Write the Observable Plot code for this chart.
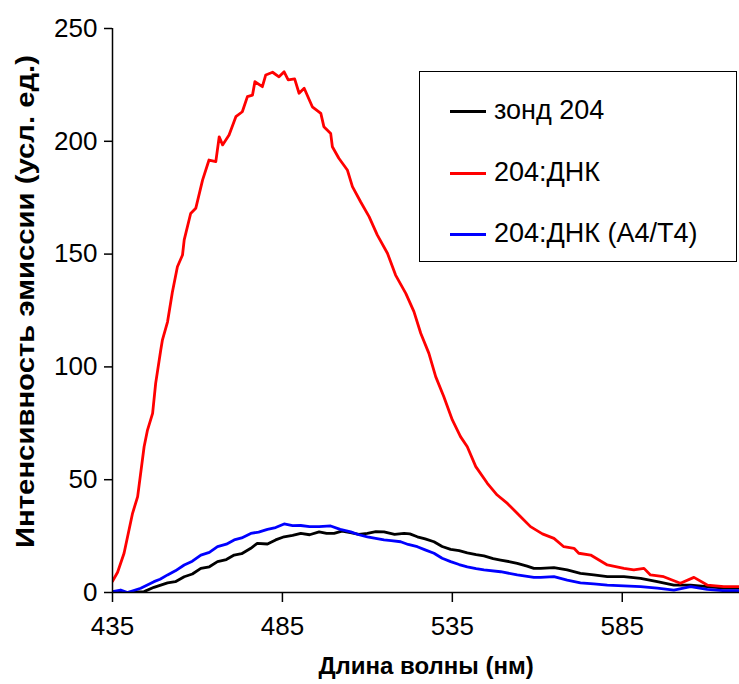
<!DOCTYPE html>
<html>
<head>
<meta charset="utf-8">
<script src="https://cdn.jsdelivr.net/npm/d3@7"></script>
<script src="https://cdn.jsdelivr.net/npm/@observablehq/plot@0.6"></script>
<style>
  html, body { margin: 0; padding: 0; background: #fff; }
  #wrap { position: relative; width: 739px; height: 684px; font-family: "Liberation Sans", Arial, sans-serif; }
  #legend { position: absolute; left: 419px; top: 71px; width: 316px; height: 189px; border: 1.5px solid #000; background: #fff; }
  .row { position: absolute; left: 0; height: 40px; }
  .sw { position: absolute; left: 30px; width: 36px; height: 3px; }
  .lab { position: absolute; left: 74px; font-size: 27px; white-space: nowrap; color: #000; line-height: 1; }
</style>
</head>
<body>
<div id="wrap"></div>
<script>
// Series names and colours
const seriesNames = ["зонд 204", "204:ДНК", "204:ДНК (A4/T4)"];
const seriesColors = ["#000000", "#ff0000", "#0000ff"];

// Tick labels
const xTicks = [435, 485, 535, 585];
const yTicks = [0, 50, 100, 150, 200, 250];
const xLabel = "Длина волны (нм)";
const yLabel = "Интенсивность эмиссии (усл. ед.)";

// зонд 204 (black)
const probeWl = [435,439.4,444.3,447.2,451.2,453.5,456.1,458.5,461,463.5,465.9,468.5,470.8,473,475.7,477.6,480.6,483,485.5,488,490.4,493,495.8,498,500.2,502.5,505,507.5,510,512.5,514.9,518,520.8,522.5,524.7,527,529.6,532,534.5,537,539.4,542,544.3,547,549.2,552,554.1,557,559,561,564.9,568.8,572.7,576.6,580.6,585.5,590.4,595.3,600.2,605.1,610,614.9,619.5];
const probeI  = [0,0,0.4,2.3,4.3,4.8,7,8.2,10.7,11.4,13.7,14.6,16.6,17.2,19.6,21.8,21.5,23.3,24.7,25.3,26.2,25.6,26.9,26.2,26.2,27.2,26.5,25.8,26.2,27.0,26.9,25.8,26.2,26.0,24.7,23.8,22.5,20.4,19.1,18.6,17.6,16.8,16.2,15.0,14.4,13.6,12.9,11.7,10.7,10.7,11,10,8.5,7.8,7,7,6.3,4.8,3.3,3.3,2.6,1.9,1.9];

// 204:ДНК (red)
const dnaWl = [435,436.5,438.4,440.9,442.4,444.3,445.3,446.8,447.7,449.2,449.7,451.2,452.6,454.1,455.6,456.1,458,459.5,461.5,463.4,465.4,466.4,467.4,469.3,471.3,473.2,474.7,476.2,476.9,479.1,480.1,482.1,484,485.5,486.7,488.6,489.9,491.4,493.8,496.3,497.2,499.2,499.7,501.6,504.1,505.6,508,510.5,512.9,515.9,518.3,521.3,523.7,525.7,528.1,530.1,532.5,535,537.4,539.4,541.9,545.3,548.2,551.2,555.1,558,561.5,564.9,567.8,570.8,572.2,575.7,580.6,585.5,588.4,591.4,593.3,597.2,602.1,606.1,610,614.9,619.5];
const dnaI  = [5,9,17.4,35.1,42.5,64.6,72,79.4,92.7,107.5,112,120,133,144.4,149.6,156.3,168,170.3,182.8,191.7,191,202,198.4,202.8,210.9,213.1,219.8,220.5,226.4,224.2,229.4,230.6,228.6,230.8,227.2,227.7,221.3,223.5,215.3,212.4,206.5,203.5,197.6,192.5,187.3,179.9,173.2,166.6,158.5,150.4,140.7,132.6,124.5,114.9,106,95.7,86.8,76.5,69.1,64.6,55.8,48.4,43.2,39.5,33.6,29.2,26,24,20.3,19.6,17.4,16.6,12.2,10.7,10,10.7,7.8,7,4.1,6.7,3.3,2.6,2.6];

// 204:ДНК (A4/T4) (blue)
const a4t4Wl = [435,437.4,439.4,443.3,447.2,449,451.2,453.5,456.1,458.5,461,463.5,465.9,468.5,470.8,473,475.7,478,480.6,483,485.5,488,490.4,493,495.8,499.2,502,505.1,507.5,510,514.9,517,519.8,522,524.7,527,529.6,532,534.5,537,539.4,542,544.3,549.2,554.1,559,561,564.9,568.8,572.7,576.6,580.6,585.5,590.4,595.3,600.2,605.1,610,614.9,619.5];
const a4t4I  = [0.4,1.1,0,1.9,4.8,5.9,7.8,9.6,12.2,13.9,16.6,17.8,20.3,21.4,23.3,24.2,26.2,26.8,28,28.8,30.4,29.6,29.7,29.2,29.2,29.5,28.0,26.9,25.6,24.7,23.3,23.0,22.5,21.3,20.3,18.9,17.4,15.2,13.7,12.4,11.4,10.6,10,9.2,7.8,6.7,6.7,7,5.5,4.3,3.8,3.3,2.9,2.6,1.9,1.1,2.6,1.4,0.8,0.8];

const rows = [];
[[probeWl, probeI], [dnaWl, dnaI], [a4t4Wl, a4t4I]].forEach(([wl, iv], k) => {
  wl.forEach((w, i) => rows.push({series: seriesNames[k], wl: w, val: iv[i]}));
});

const font = '"Liberation Sans", Arial, sans-serif';

const chart = Plot.plot({
  width: 739,
  height: 684,
  marginLeft: 112,
  marginRight: 0,
  marginTop: 28,
  marginBottom: 92,
  style: {fontFamily: font, background: "#fff", color: "#000", overflow: "visible"},
  x: {domain: [435, 619.5]},
  y: {domain: [0, 250]},
  color: {domain: seriesNames, range: seriesColors},
  marks: [
    Plot.axisX({ticks: xTicks, tickSize: 10, tickPadding: 14, fontSize: 26, strokeWidth: 1.5, label: null, tickFormat: d => String(d)}),
    Plot.axisY({ticks: yTicks, tickSize: 8, tickPadding: 7, fontSize: 26, strokeWidth: 1.5, label: null}),
    Plot.line(rows, {x: "wl", y: "val", z: "series", stroke: "series", strokeWidth: 2.8, clip: true}),
    Plot.ruleX([435], {stroke: "#000", strokeWidth: 1.5}),
    Plot.ruleY([0], {stroke: "#000", strokeWidth: 1.5}),
    Plot.text([xLabel], {text: d => d, frameAnchor: "bottom", dy: 74, lineAnchor: "middle", fontSize: 24, fontWeight: "bold", fill: "#000"}),
    Plot.text([yLabel], {text: d => d, frameAnchor: "left", dx: -87, dy: -9, rotate: -90, lineAnchor: "middle", textAnchor: "middle", fontSize: 25, fontWeight: "bold", fill: "#000", className: "ylab"})
  ]
});

// stretch the rotated y label along its length, as in the reference
d3.select(chart).selectAll("text").filter(function() { return this.textContent === yLabel; })
  .attr("textLength", 493).attr("lengthAdjust", "spacingAndGlyphs");

const wrap = document.getElementById("wrap");
wrap.appendChild(chart);

const legend = document.createElement("div");
legend.id = "legend";
const rowTops = [39, 101, 162];
seriesNames.forEach((name, i) => {
  const r = document.createElement("div");
  r.className = "row";
  r.style.top = (rowTops[i] - 20) + "px";
  r.style.width = "316px";
  const sw = document.createElement("div");
  sw.className = "sw";
  sw.style.background = seriesColors[i];
  sw.style.top = "18.5px";
  const lb = document.createElement("div");
  lb.className = "lab";
  lb.textContent = name;
  lb.style.top = "6px";
  r.appendChild(sw);
  r.appendChild(lb);
  legend.appendChild(r);
});
wrap.appendChild(legend);
</script>
</body>
</html>
